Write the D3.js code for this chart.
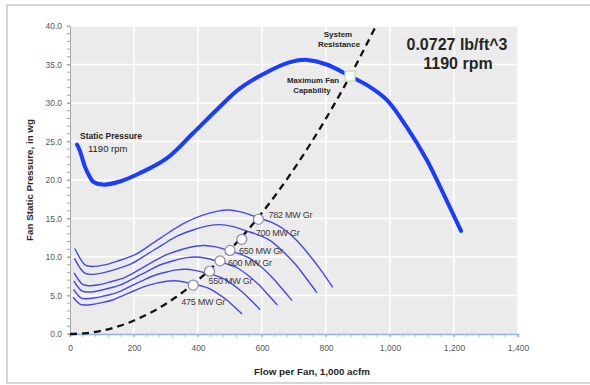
<!DOCTYPE html>
<html><head><meta charset="utf-8">
<script src="https://cdn.jsdelivr.net/npm/d3@7"></script>
<style>
html,body{margin:0;padding:0;background:#fff;}
svg{display:block;font-family:"Liberation Sans",Arial,sans-serif;}
</style></head>
<body><svg id="c" width="590" height="385"></svg>
<script>
// ---- data ----
const xTicks = [0,200,400,600,800,1000,1200,1400];
const yTicks = [0,5,10,15,20,25,30,35,40];

// main fan curve, 1190 rpm
const mainFlow = [22,30,37,47,62,72,103,156,219,302,385,458,531,615,688,740,802,875,937,990,1052,1115,1166,1222];
const mainPress = [24.6,23.9,23.0,21.7,20.4,19.8,19.4,19.8,20.9,22.8,26.1,29.1,31.9,34.0,35.3,35.6,35.0,33.5,32.1,30.4,26.9,22.6,18.3,13.4];

// load curves
const loadNames = ["782 MW Gr","700 MW Gr","650 MW Gr","600 MW Gr","550 MW Gr","475 MW Gr"];
const flow782 = [15,32,48,69,105,147,203,259,308,357,413,462,497,539,588,630,665,707,749,784,821];
const press782 = [11.1,9.8,8.95,8.77,8.95,9.45,10.3,11.8,13.15,14.4,15.4,15.96,16.1,15.8,15.1,14.5,13.7,12.2,10.2,8.3,6.06];
const flow700 = [14,30,46,65,99,138,191,243,290,336,389,435,468,507,553,592,626,665,705,737,772];
const press700 = [9.82,8.66,7.9,7.74,7.9,8.34,9.1,10.41,11.61,12.73,13.57,14.08,14.2,13.97,13.37,12.81,12.13,10.73,9.02,7.3,5.35];
const flow650 = [13,27,41,59,89,124,172,219,260,302,349,391,420,456,497,532,562,598,633,662,694];
const press650 = [7.95,7.01,6.4,6.27,6.4,6.75,7.36,8.43,9.4,10.3,10.98,11.4,11.5,11.31,10.82,10.37,9.82,8.69,7.3,5.91,4.33];
const flow600 = [12,25,38,55,83,116,160,204,243,281,326,365,392,425,464,497,525,558,591,618,648];
const press600 = [6.91,6.1,5.56,5.45,5.56,5.87,6.41,7.33,8.18,8.96,9.55,9.92,10.0,9.84,9.41,9.02,8.54,7.56,6.35,5.14,3.77];
const flow550 = [11,23,35,50,76,106,147,187,223,258,299,334,360,390,425,455,481,511,542,567,594];
const press550 = [5.81,5.12,4.67,4.58,4.67,4.93,5.38,6.16,6.87,7.53,8.02,8.33,8.4,8.26,7.91,7.58,7.17,6.35,5.33,4.32,3.16];
const flow475 = [10,21,32,45,69,96,133,169,202,234,271,303,326,353,385,412,436,463,491,513,538];
const press475 = [4.77,4.21,3.84,3.76,3.84,4.05,4.42,5.06,5.65,6.19,6.6,6.85,6.91,6.79,6.5,6.23,5.9,5.22,4.38,3.55,2.6];

// operating points on the system resistance curve
const opFlow = [589,537,500,469,436,385];
const opPress = [14.9,12.3,10.85,9.5,8.15,6.36];

// system resistance curve
const sysFlow = [0,50,100,150,200,250,300,350,400,450,500,550,600,650,700,750,800,850,900,956];
const sysPress = [0,0.11,0.44,0.98,1.75,2.73,3.94,5.36,7.0,8.86,10.94,13.23,15.75,18.48,21.44,24.61,28.0,31.6,35.44,40.0];

// maximum fan capability point
const maxFlow = 875, maxPress = 33.5;

// ---- layout ----
const svg = d3.select("#c");
const L = 70, R = 518, T = 26, B = 334;
const x = d3.scaleLinear().domain([0,1400]).range([L,R]);
const y = d3.scaleLinear().domain([0,40]).range([B,T]);

// outer frame
svg.append("rect").attr("x",7).attr("y",5).attr("width",590).attr("height",378)
  .attr("fill","#fff").attr("stroke","#d6d6d6").attr("stroke-width",2);

// plot background
svg.append("rect").attr("x",L).attr("y",T).attr("width",R-L).attr("height",B-T).attr("fill","#ebebeb");

// grid
svg.append("g").selectAll("line").data(xTicks.slice(1)).join("line")
  .attr("x1",d=>x(d)).attr("x2",d=>x(d)).attr("y1",T).attr("y2",B)
  .attr("stroke","#fff").attr("stroke-width",1.5);
svg.append("g").selectAll("line").data(yTicks.slice(1)).join("line")
  .attr("y1",d=>y(d)).attr("y2",d=>y(d)).attr("x1",L).attr("x2",R)
  .attr("stroke","#fff").attr("stroke-width",1.5);

// y axis
const yAxis = svg.append("g").attr("transform",`translate(${L},0)`)
  .call(d3.axisLeft(y).tickValues(yTicks).tickFormat(d3.format(".1f")).tickSize(3).tickPadding(5));
yAxis.select(".domain").attr("stroke","#a6a6a6");
yAxis.selectAll(".tick line").attr("stroke","#a6a6a6");
yAxis.selectAll("text").attr("fill","#595959").attr("font-size",8.5);
svg.append("g").selectAll("line").data(d3.range(0,41,1)).join("line")
  .attr("x1",L-3).attr("x2",L).attr("y1",d=>y(d)).attr("y2",d=>y(d)).attr("stroke","#a6a6a6");

// x axis
const xAxis = svg.append("g").attr("transform",`translate(0,${B})`)
  .call(d3.axisBottom(x).tickValues(xTicks).tickFormat(d3.format(",")).tickSize(3).tickPadding(8));
xAxis.select(".domain").attr("stroke","#8fb4e3").attr("stroke-width",1.5);
xAxis.selectAll(".tick line").attr("stroke","#8fb4e3");
xAxis.selectAll("text").attr("fill","#595959").attr("font-size",8.5);
svg.append("g").selectAll("line").data(d3.range(0,1401,40)).join("line")
  .attr("x1",d=>x(d)).attr("x2",d=>x(d)).attr("y1",B).attr("y2",B+3).attr("stroke","#8fb4e3");

// axis titles
svg.append("text").attr("x",312).attr("y",375).attr("text-anchor","middle")
  .attr("font-weight","bold").attr("font-size",9.8).attr("fill","#262626").text("Flow per Fan, 1,000 acfm");
svg.append("text").attr("transform",`translate(33,${(T+B)/2}) rotate(-90)`).attr("text-anchor","middle")
  .attr("font-weight","bold").attr("font-size",9.8).attr("fill","#262626").text("Fan Static Pressure, in wg");

const line = d3.line().x(d=>x(d[0])).y(d=>y(d[1])).curve(d3.curveCatmullRom.alpha(0.5));
const zip = (a,b)=>a.map((v,i)=>[v,b[i]]);

// load curves
const loadFlows = [flow782,flow700,flow650,flow600,flow550,flow475];
const loadPress = [press782,press700,press650,press600,press550,press475];
svg.append("g").selectAll("path").data(loadFlows.map((f,i)=>zip(f,loadPress[i]))).join("path")
  .attr("d",line).attr("fill","none").attr("stroke","#4548f0").attr("stroke-width",1.4);

// system resistance
svg.append("path").datum(zip(sysFlow,sysPress)).attr("d",line).attr("fill","none")
  .attr("stroke","#111").attr("stroke-width",2.3).attr("stroke-dasharray","7,5");

// main curve
svg.append("path").datum(zip(mainFlow,mainPress)).attr("d",line).attr("fill","none")
  .attr("stroke","#1a3cff").attr("stroke-width",4).attr("stroke-linecap","round");

// max point
svg.append("rect").attr("x",x(maxFlow)-5).attr("y",y(maxPress)-5).attr("width",10).attr("height",10)
  .attr("fill","#fff").attr("stroke","#c5dca6").attr("stroke-width",1.2);

// operating markers
svg.append("g").selectAll("circle").data(opFlow.map((f,i)=>[f,opPress[i]])).join("circle")
  .attr("cx",d=>x(d[0])).attr("cy",d=>y(d[1])).attr("r",5)
  .attr("fill","#fff").attr("stroke","#8e83b8").attr("stroke-width",1.2);

// load labels (offsets from marker, px)
const labDx = [10,14,9,8,-1,-12], labDy = [-4,-6,1,2,10,17];
svg.append("g").selectAll("text").data(loadNames).join("text")
  .attr("x",(d,i)=>x(opFlow[i])+labDx[i]).attr("y",(d,i)=>y(opPress[i])+labDy[i]+3)
  .attr("font-size",9).attr("fill","#3a3a3a").attr("letter-spacing",-0.25).text(d=>d);

// annotations
svg.append("text").attr("x",80).attr("y",139).attr("font-weight","bold").attr("font-size",8.5)
  .attr("fill","#262626").text("Static Pressure");
svg.append("text").attr("x",88).attr("y",152).attr("font-size",9.5).attr("fill","#262626").text("1190 rpm");
svg.append("text").attr("x",338).attr("y",37).attr("text-anchor","middle").attr("font-weight","bold")
  .attr("font-size",8).attr("fill","#262626").text("System");
svg.append("text").attr("x",339).attr("y",47).attr("text-anchor","middle").attr("font-weight","bold")
  .attr("font-size",8).attr("fill","#262626").text("Resistance");
svg.append("text").attr("x",313).attr("y",83).attr("text-anchor","middle").attr("font-weight","bold")
  .attr("font-size",7.8).attr("fill","#262626").text("Maximum Fan");
svg.append("text").attr("x",312).attr("y",93).attr("text-anchor","middle").attr("font-weight","bold")
  .attr("font-size",7.8).attr("fill","#262626").text("Capability");
svg.append("text").attr("x",457).attr("y",50).attr("text-anchor","middle").attr("font-weight","bold")
  .attr("font-size",16).attr("fill","#262626").text("0.0727 lb/ft^3");
svg.append("text").attr("x",458).attr("y",69).attr("text-anchor","middle").attr("font-weight","bold")
  .attr("font-size",16).attr("fill","#262626").text("1190 rpm");
</script></body></html>
